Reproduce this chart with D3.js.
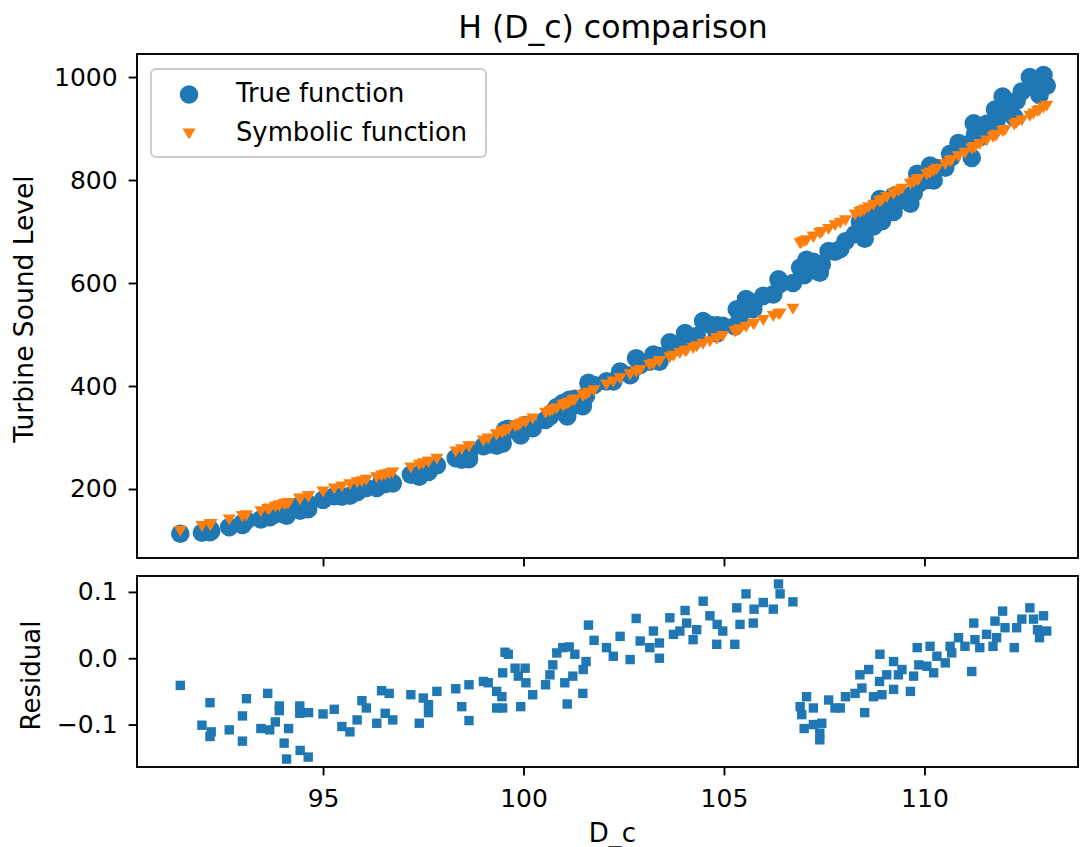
<!DOCTYPE html>
<html>
<head>
<meta charset="utf-8">
<script src="https://cdn.jsdelivr.net/npm/d3@7"></script>
<style>
  body { margin: 0; background: #fff; }
  svg text { font-family: "DejaVu Sans", sans-serif; fill: #000; }
</style>
</head>
<body>
<svg id="chart" width="1080" height="847"></svg>
<script>
// D_c values
const dc = [
  91.44, 91.98, 92.18, 92.18, 92.21, 92.66, 92.99, 92.99, 93.09, 93.45, 93.62, 93.67, 93.81, 93.91, 93.91,
  94.03, 94.09, 94.14, 94.42, 94.42, 94.43, 94.63, 94.64, 95.00, 95.28, 95.47, 95.67, 95.85, 95.97, 96.08,
  96.34, 96.46, 96.55, 96.65, 96.74, 97.19, 97.40, 97.50, 97.63, 97.63, 97.84, 98.31, 98.46, 98.64, 98.64,
  99.00, 99.12, 99.33, 99.33, 99.46, 99.48, 99.48, 99.54, 99.62, 99.79, 99.87, 99.93, 100.04, 100.06, 100.23,
  100.55, 100.66, 100.73, 100.83, 100.98, 101.03, 101.09, 101.14, 101.23, 101.28, 101.48, 101.49, 101.56, 101.62, 101.76,
  102.07, 102.24, 102.41, 102.66, 102.81, 102.91, 103.15, 103.24, 103.39, 103.39, 103.65, 103.74, 103.90, 104.03, 104.07,
  104.23, 104.32, 104.48, 104.65, 104.82, 104.83, 104.97, 105.27, 105.32, 105.40, 105.55, 105.73, 105.75, 105.98, 106.23,
  106.36, 106.40, 106.72, 106.90, 106.94, 107.00, 107.06, 107.23, 107.23, 107.39, 107.39, 107.44, 107.61,
  107.77, 107.90, 108.03, 108.27, 108.39, 108.44, 108.51, 108.61, 108.73, 108.88, 108.89, 108.94, 109.06, 109.23, 109.23,
  109.35, 109.44, 109.65, 109.73, 109.82, 109.86, 110.06, 110.14, 110.23, 110.31, 110.52, 110.64, 110.68, 110.85, 111.01,
  111.18, 111.23, 111.26, 111.38, 111.55, 111.71, 111.76, 111.80, 111.95, 112.01, 112.24, 112.30, 112.43, 112.63, 112.72,
  112.82, 112.87, 112.97, 113.05
];

// true function (blue circles)
const trueVals = [
  113, 115, 122, 116, 118, 126, 134, 130, 139, 141, 152, 145, 151, 156, 155,
  151, 148, 156, 168, 166, 158, 161, 171, 179, 186, 185, 187, 194, 201, 202,
  202, 214, 210, 217, 211, 228, 224, 235, 236, 233, 246, 260, 257, 271, 258,
  283, 286, 290, 284, 292, 288, 303, 315, 317, 316, 314, 304, 324, 318, 318,
  334, 341, 349, 359, 367, 350, 341, 373, 361, 375, 361, 375, 381, 406, 402,
  409, 409, 428, 421, 454, 441, 447, 461, 447, 458, 485, 475, 483, 503, 494,
  487, 497, 526, 519, 502, 518, 517, 516, 549, 536, 569, 549, 562, 575, 578,
  607, 598, 600, 630, 625, 615, 645, 626, 641, 625, 620, 636, 662,
  661, 666, 681, 695, 719, 707, 686, 734, 710, 732, 763, 720, 747, 769, 738,
  759, 769, 754, 774, 812, 793, 800, 828, 799, 823, 824, 851, 845, 872, 868,
  843, 910, 888, 883, 909, 899, 937, 915, 962, 939, 922, 954, 972, 1000, 986,
  975, 965, 1004, 983
];

// symbolic function (orange triangles)
const symVals = [
  118, 127, 130, 130, 131, 140, 146, 146, 148, 156, 160, 161, 165, 167, 167,
  170, 171, 172, 180, 180, 180, 185, 185, 194, 200, 204, 208, 212, 214, 217,
  222, 225, 227, 229, 231, 241, 246, 249, 252, 252, 258, 272, 276, 282, 282,
  293, 297, 305, 305, 309, 310, 310, 312, 315, 321, 323, 326, 329, 330, 336,
  347, 350, 353, 356, 361, 363, 365, 367, 371, 373, 380, 381, 383, 386, 391,
  402, 408, 414, 422, 427, 430, 440, 442, 447, 447, 455, 458, 463, 467, 468,
  473, 476, 481, 486, 491, 492, 496, 505, 507, 509, 514, 520, 520, 527, 535,
  539, 540, 549, 676, 678, 680, 682, 689, 689, 696, 696, 698, 704,
  711, 716, 721, 732, 737, 739, 742, 746, 751, 758, 758, 760, 766, 773, 773,
  778, 782, 792, 795, 799, 801, 810, 813, 817, 821, 830, 836, 838, 845, 852,
  860, 862, 863, 869, 876, 883, 885, 887, 894, 896, 907, 910, 915, 924, 928,
  933, 935, 940, 943
];

// residual panel
const residuals = [
  -0.041, -0.101, -0.067, -0.118, -0.111, -0.108, -0.087, -0.125, -0.061, -0.106, -0.053, -0.108, -0.096, -0.072, -0.079,
  -0.128, -0.152, -0.106, -0.072, -0.083, -0.139, -0.149, -0.082, -0.084, -0.077, -0.103, -0.111, -0.093, -0.064, -0.075,
  -0.098, -0.049, -0.083, -0.053, -0.093, -0.055, -0.098, -0.060, -0.070, -0.082, -0.050, -0.046, -0.073, -0.040, -0.094,
  -0.035, -0.037, -0.050, -0.075, -0.058, -0.075, -0.022, 0.009, 0.006, -0.015, -0.027, -0.073, -0.015, -0.037, -0.055,
  -0.040, -0.025, -0.010, 0.008, 0.016, -0.037, -0.069, 0.017, -0.027, 0.006, -0.053, -0.017, -0.005, 0.050, 0.027,
  0.016, 0.003, 0.033, -0.002, 0.060, 0.026, 0.016, 0.041, 0.000, 0.023, 0.061, 0.036, 0.041, 0.072, 0.053,
  0.028, 0.043, 0.086, 0.064, 0.021, 0.051, 0.041, 0.021, 0.076, 0.051, 0.097, 0.053, 0.074, 0.084, 0.074,
  0.112, 0.097, 0.085, -0.073, -0.085, -0.106, -0.058, -0.100, -0.075, -0.113, -0.123, -0.098, -0.063,
  -0.075, -0.075, -0.058, -0.053, -0.025, -0.045, -0.082, -0.017, -0.058, -0.035, 0.006, -0.055, -0.025, -0.005, -0.047,
  -0.025, -0.017, -0.050, -0.027, 0.016, -0.010, -0.012, 0.018, -0.022, 0.003, -0.007, 0.018, 0.008, 0.031, 0.018,
  -0.020, 0.053, 0.028, 0.016, 0.036, 0.018, 0.056, 0.031, 0.071, 0.046, 0.016, 0.046, 0.059, 0.076, 0.059,
  0.043, 0.031, 0.064, 0.041
];

const xTicks = [95, 100, 105, 110];
const yTicks = [200, 400, 600, 800, 1000];
const resTicks = [-0.1, 0.0, 0.1];

const blue = "#1f77b4", orange = "#ff7f0e";
const left = 137, right = 1078;
const top1 = 54, bot1 = 558, top2 = 576, bot2 = 767;
const tickLen = 8.4, lw = 1.9;
const triPath = "M-6.5,-5.5L6.5,-5.5L0,5.5Z";

const svg = d3.select("#chart");
svg.append("rect").attr("width", 1080).attr("height", 847).attr("fill", "#fff");

const x = d3.scaleLinear().domain([90.36, 113.83]).range([left, right]);
const y = d3.scaleLinear().domain([66, 1044.7]).range([bot1, top1]);
const yr = d3.scaleLinear().domain([-0.164, 0.124]).range([bot2, top2]);

const pts = dc.map((d, i) => ({x: d, t: trueVals[i], s: symVals[i], r: residuals[i]}));

function styleAxis(g, fs) {
  g.select(".domain").remove();
  g.selectAll(".tick line").attr("stroke", "#000").attr("stroke-width", lw);
  g.selectAll(".tick text").attr("font-size", fs).attr("font-family", "DejaVu Sans").attr("fill", "#000");
}

// top panel
const p1 = svg.append("g");
p1.selectAll("circle").data(pts).enter().append("circle")
  .attr("cx", d => x(d.x)).attr("cy", d => y(d.t)).attr("r", 9.3)
  .attr("fill", blue);
p1.selectAll("path.sym").data(pts).enter().append("path")
  .attr("class", "sym")
  .attr("d", triPath)
  .attr("transform", d => `translate(${x(d.x)},${y(d.s)})`)
  .attr("fill", orange);

p1.append("g").attr("transform", `translate(${left},0)`)
  .call(d3.axisLeft(y).tickValues(yTicks).tickSize(tickLen).tickPadding(11).tickFormat(d3.format("d")))
  .call(g => styleAxis(g, 25));
p1.append("g").attr("transform", `translate(0,${bot1})`)
  .call(d3.axisBottom(x).tickValues(xTicks).tickSize(tickLen).tickFormat(""))
  .call(g => styleAxis(g, 25));
p1.append("rect").attr("x", left).attr("y", top1).attr("width", right - left).attr("height", bot1 - top1)
  .attr("fill", "none").attr("stroke", "#000").attr("stroke-width", lw);

// legend
const lg = svg.append("g");
lg.append("rect").attr("x", 151).attr("y", 69).attr("width", 335).attr("height", 88).attr("rx", 5)
  .attr("fill", "#fff").attr("fill-opacity", 0.8).attr("stroke", "#cccccc").attr("stroke-width", 1.9);
lg.append("circle").attr("cx", 189).attr("cy", 94.5).attr("r", 9.3).attr("fill", blue);
lg.append("path").attr("d", triPath).attr("transform", "translate(189,134)").attr("fill", orange);
lg.append("text").attr("x", 236).attr("y", 101.5).attr("font-size", 25.8).text("True function");
lg.append("text").attr("x", 236).attr("y", 141).attr("font-size", 25.8).text("Symbolic function");

// residual panel
const p2 = svg.append("g");
p2.selectAll("rect.res").data(pts).enter().append("rect")
  .attr("class", "res")
  .attr("x", d => x(d.x) - 4.7).attr("y", d => yr(d.r) - 4.7)
  .attr("width", 9.4).attr("height", 9.4).attr("fill", blue);
p2.append("g").attr("transform", `translate(${left},0)`)
  .call(d3.axisLeft(yr).tickValues(resTicks).tickSize(tickLen).tickPadding(11).tickFormat(d3.format(".1f")))
  .call(g => styleAxis(g, 25));
p2.append("g").attr("transform", `translate(0,${bot2})`)
  .call(d3.axisBottom(x).tickValues(xTicks).tickSize(tickLen).tickPadding(13.5).tickFormat(d3.format("d")))
  .call(g => styleAxis(g, 25));
p2.append("rect").attr("x", left).attr("y", top2).attr("width", right - left).attr("height", bot2 - top2)
  .attr("fill", "none").attr("stroke", "#000").attr("stroke-width", lw);

// titles and labels
const midX = (left + right) / 2;
svg.append("text").attr("x", 613).attr("y", 38).attr("text-anchor", "middle")
  .attr("font-size", 31.5).text("H (D_c) comparison");
svg.append("text").attr("transform", `translate(33,${(top1 + bot1) / 2 + 3}) rotate(-90)`)
  .attr("text-anchor", "middle").attr("font-size", 26.5).text("Turbine Sound Level");
svg.append("text").attr("transform", `translate(40,${(top2 + bot2) / 2 + 4}) rotate(-90)`)
  .attr("text-anchor", "middle").attr("font-size", 26).text("Residual");
svg.append("text").attr("x", midX + 5).attr("y", 842).attr("text-anchor", "middle")
  .attr("font-size", 26).text("D_c");
</script>
</body>
</html>
